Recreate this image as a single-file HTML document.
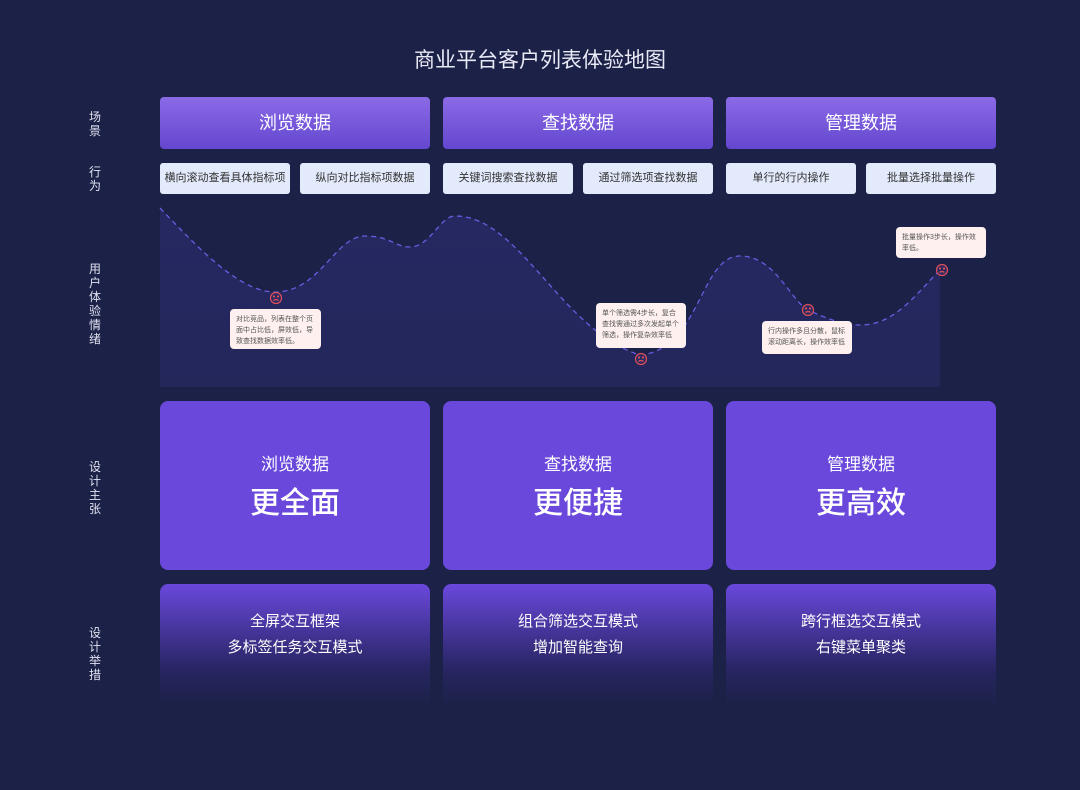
<!DOCTYPE html>
<html><head><meta charset="utf-8"><style>
body{margin:0;width:1080px;height:790px;background:#1c2147;font-family:"Liberation Sans","Noto Sans CJK SC",sans-serif;position:relative;overflow:hidden;color:#fff}
.a{position:absolute}
.t{left:0;width:1080px;top:44px;text-align:center;font-size:21px;color:#e8eaf5}
.lab{left:80px;width:30px;text-align:center;font-size:12px;line-height:14px;color:#e0e2f0}
.h{height:52px;top:97px;width:270px;border-radius:4px;background:linear-gradient(#8b6ae6,#6447cf);font-size:18px;text-align:center;line-height:52px}
.b{top:163px;height:31px;width:130px;background:#e3eafb;border-radius:3px;color:#333;font-size:11px;text-align:center;line-height:31px}
.d{top:401px;height:169px;width:270px;background:#6a48dc;border-radius:8px;text-align:center}
.d .s{margin-top:49px;font-size:17px}
.d .l{font-size:30px;margin-top:3px;font-weight:500}
.m{top:584px;height:122px;width:270px;border-radius:8px 8px 0 0;background:linear-gradient(#6a48dc,rgba(60,45,150,0.35) 70%,rgba(28,33,71,0));text-align:center;font-size:15px;line-height:26px;padding-top:25px;box-sizing:border-box}
.tip{background:#fdf0ee;color:#555;font-size:7px;line-height:11px;border-radius:4px;padding:5px 6px;box-sizing:border-box}
</style></head><body>
<div class="a t">商业平台客户列表体验地图</div>
<div class="a lab" style="top:110px">场<br>景</div>
<div class="a lab" style="top:165px">行<br>为</div>
<div class="a lab" style="top:262px">用<br>户<br>体<br>验<br>情<br>绪</div>
<div class="a lab" style="top:460px">设<br>计<br>主<br>张</div>
<div class="a lab" style="top:626px">设<br>计<br>举<br>措</div>

<div class="a h" style="left:160px">浏览数据</div>
<div class="a h" style="left:443px">查找数据</div>
<div class="a h" style="left:726px">管理数据</div>

<div class="a b" style="left:160px">横向滚动查看具体指标项</div>
<div class="a b" style="left:300px">纵向对比指标项数据</div>
<div class="a b" style="left:443px">关键词搜索查找数据</div>
<div class="a b" style="left:583px">通过筛选项查找数据</div>
<div class="a b" style="left:726px">单行的行内操作</div>
<div class="a b" style="left:866px">批量选择批量操作</div>

<svg class="a" style="left:0;top:0" width="1080" height="790">
<defs><linearGradient id="g" x1="0" y1="0" x2="0" y2="1"><stop offset="0" stop-color="#262862"/><stop offset="1" stop-color="#23275a"/></linearGradient></defs>
<path d="M160,208 C200,250 240,292 275,292 C320,292 335,236 365,236 C390,236 395,247 410,247 C430,247 440,216 455,216 C520,216 560,330 640,355 C700,350 700,256 740,256 C775,256 790,300 808,310 C830,320 845,325 860,325 C895,325 915,295 940,270 L940,387 L160,387 Z" fill="url(#g)"/>
<path d="M160,208 C200,250 240,292 275,292 C320,292 335,236 365,236 C390,236 395,247 410,247 C430,247 440,216 455,216 C520,216 560,330 640,355 C700,350 700,256 740,256 C775,256 790,300 808,310 C830,320 845,325 860,325 C895,325 915,295 940,270" fill="none" stroke="#6b5be0" stroke-width="1.3" stroke-dasharray="5,4"/>
<g fill="none" stroke="#e0505a" stroke-width="1.2">
<g transform="translate(276,298)"><circle r="5.5" fill="#2a2960"/><circle cx="-2" cy="-1.5" r="0.5"/><circle cx="2" cy="-1.5" r="0.5"/><path d="M-2.5,2.5 Q0,0.5 2.5,2.5"/></g>
<g transform="translate(641,359)"><circle r="5.5" fill="#2a2960"/><circle cx="-2" cy="-1.5" r="0.5"/><circle cx="2" cy="-1.5" r="0.5"/><path d="M-2.5,2.5 Q0,0.5 2.5,2.5"/></g>
<g transform="translate(808,310)"><circle r="5.5" fill="#2a2960"/><circle cx="-2" cy="-1.5" r="0.5"/><circle cx="2" cy="-1.5" r="0.5"/><path d="M-2.5,2.5 Q0,0.5 2.5,2.5"/></g>
<g transform="translate(942,270)"><circle r="5.5" fill="#2a2960"/><circle cx="-2" cy="-1.5" r="0.5"/><circle cx="2" cy="-1.5" r="0.5"/><path d="M-2.5,2.5 Q0,0.5 2.5,2.5"/></g>
</g>
</svg>
<div class="a tip" style="left:230px;top:309px;width:91px;height:40px">对比竞品，列表在整个页面中占比低，屏效低，导致查找数据效率低。</div>
<div class="a tip" style="left:596px;top:303px;width:90px;height:45px">单个筛选需4步长，复合查找需通过多次发起单个筛选，操作复杂效率低</div>
<div class="a tip" style="left:762px;top:321px;width:90px;height:33px">行内操作多且分散，鼠标滚动距离长，操作效率低</div>
<div class="a tip" style="left:896px;top:227px;width:90px;height:31px">批量操作3步长，操作效率低。</div>

<div class="a d" style="left:160px"><div class="s">浏览数据</div><div class="l">更全面</div></div>
<div class="a d" style="left:443px"><div class="s">查找数据</div><div class="l">更便捷</div></div>
<div class="a d" style="left:726px"><div class="s">管理数据</div><div class="l">更高效</div></div>

<div class="a m" style="left:160px">全屏交互框架<br>多标签任务交互模式</div>
<div class="a m" style="left:443px">组合筛选交互模式<br>增加智能查询</div>
<div class="a m" style="left:726px">跨行框选交互模式<br>右键菜单聚类</div>
</body></html>
